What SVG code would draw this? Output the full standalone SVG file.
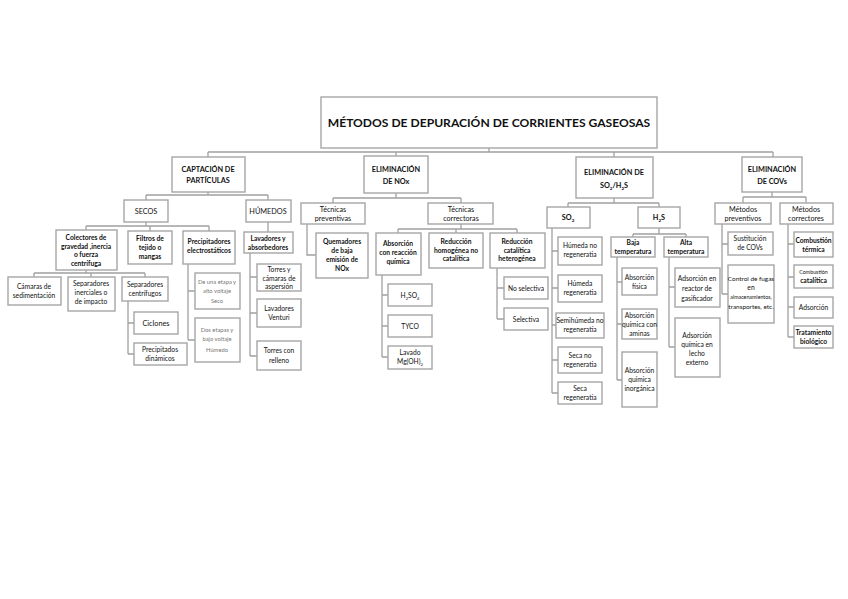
<svg xmlns="http://www.w3.org/2000/svg" width="848" height="599" viewBox="0 0 848 599">
<style>
rect{fill:#fff;stroke:#a6a6a6;stroke-width:1.4}
#connectors path{fill:none;stroke:#a0a0a0;stroke-width:1.3}
text{font-family:Lato,"Liberation Sans",sans-serif;text-anchor:middle;fill:#111}
.t{font-size:12.1px;font-weight:bold}
.h{font-size:7.3px;font-weight:bold}
.m{font-size:6.7px;font-weight:bold}
.s{font-size:6.7px}
.g{font-size:5.8px;fill:#777}
.x{font-size:5.3px}
</style>
<rect x="0" y="0" width="848" height="599" style="fill:#fff;stroke:none"/>
<g id="connectors">
<path d="M489 148V152M208 152H773M208 152V157M396 152V156M614 152V157M773 152V157"/>
<path d="M208 192V195M146 195H268M146 195V200M268 195V200"/>
<path d="M146 222V226M86 226H209M86 226V230M150 226V231M209 226V231"/>
<path d="M86 270V273M34 273H145M34 273V277M91 273V277M145 273V277"/>
<path d="M128 301V354M128 323H134M128 354H134"/>
<path d="M188 264V340M188 291H195M188 340H195"/>
<path d="M268 222V232M250 253V356M250 277H257M250 313H257M250 356H257"/>
<path d="M396 193V198M333 198H461M333 198V203M461 198V203"/>
<path d="M307 224V255H316"/>
<path d="M461 224V229M398 229H517M398 229V233M456 229V233M517 229V233"/>
<path d="M382 275V357M382 295H388M382 326H388M382 357H388"/>
<path d="M497 268V319M497 288H504M497 319H504"/>
<path d="M614 198V203M568 203H659M568 203V207M659 203V207"/>
<path d="M552 228V393M552 251H558M552 288H558M552 325H556M552 360H558M552 393H558"/>
<path d="M659 228V234M633 234H686M633 234V237M686 234V237"/>
<path d="M617 257V380M617 282H622M617 324H622M617 380H622"/>
<path d="M669 257V347M669 287H675M669 347H675"/>
<path d="M772 192V197M743 197H806M743 197V203M806 197V203"/>
<path d="M722 224V294M722 244H728M722 294H728"/>
<path d="M788 224V337M788 244H794M788 277H794M788 307H794M788 337H794"/>
</g>
<g id="n-title"><rect x="321" y="97" width="336" height="51"/><text class="t" x="489" y="127">MÉTODOS DE DEPURACIÓN DE CORRIENTES GASEOSAS</text></g>
<g id="n-captacion"><rect x="172" y="157" width="73" height="35"/><text class="h" x="208" y="172">CAPTACIÓN DE</text><text class="h" x="208" y="183">PARTÍCULAS</text></g>
<g id="n-nox"><rect x="364" y="156" width="64" height="37"/><text class="h" x="396" y="172">ELIMINACIÓN</text><text class="h" x="396" y="184">DE NOx</text></g>
<g id="n-so2h2s"><rect x="576" y="157" width="77" height="41"/><text class="h" x="614" y="175">ELIMINACIÓN DE</text><text class="h" x="614" y="188">SO<tspan dy="1.5" font-size="4.5">2</tspan><tspan dy="-1.5">/H</tspan><tspan dy="1.5" font-size="4.5">2</tspan><tspan dy="-1.5">S</tspan></text></g>
<g id="n-covs"><rect x="742" y="157" width="60" height="35"/><text class="h" x="772" y="172">ELIMINACIÓN</text><text class="h" x="772" y="184">DE COVs</text></g>

<g id="n-secos"><rect x="124" y="200" width="44" height="22"/><text class="h" x="146" y="214" style="font-weight:normal">SECOS</text></g>
<g id="n-humedos"><rect x="246" y="200" width="45" height="22"/><text class="h" x="268" y="214" style="font-weight:normal">HÚMEDOS</text></g>
<g id="n-colectores"><rect x="56" y="230" width="61" height="40"/><text class="m" x="86" y="240">Colectores de</text><text class="m" x="86" y="248.5">gravedad ,inercia</text><text class="m" x="86" y="257">o fuerza</text><text class="m" x="86" y="265.5">centrífuga</text></g>
<g id="n-filtros"><rect x="128" y="231" width="44" height="33"/><text class="m" x="150" y="241">Filtros de</text><text class="m" x="150" y="250">tejido o</text><text class="m" x="150" y="259">mangas</text></g>
<g id="n-precip-elec"><rect x="183" y="231" width="52" height="33"/><text class="m" x="209" y="244">Precipitadores</text><text class="m" x="209" y="253">electrostáticos</text></g>
<g id="n-camaras"><rect x="8" y="277" width="53" height="28"/><text class="s" x="34" y="289">Cámaras de</text><text class="s" x="34" y="298">sedimentación</text></g>
<g id="n-sep-inerciales"><rect x="68" y="277" width="47" height="34"/><text class="s" x="91" y="286">Separadores</text><text class="s" x="91" y="295">inerciales o</text><text class="s" x="91" y="304">de impacto</text></g>
<g id="n-sep-centrifugos"><rect x="122" y="277" width="46" height="24"/><text class="s" x="145" y="287">Separadores</text><text class="s" x="145" y="296">centrífugos</text></g>
<g id="n-ciclones"><rect x="134" y="312" width="44" height="22"/><text class="h" x="156" y="326" style="font-weight:normal">Ciclones</text></g>
<g id="n-precip-din"><rect x="134" y="343" width="53" height="22"/><text class="s" x="160" y="352">Precipitados</text><text class="s" x="160" y="361">dinámicos</text></g>
<g id="n-una-etapa"><rect x="195" y="273" width="45" height="36"/><text class="g" x="217" y="284">De una etapa y</text><text class="g" x="217" y="293">alto voltaje</text><text class="g" x="217" y="303">Seco</text></g>
<g id="n-dos-etapas"><rect x="195" y="318" width="45" height="44"/><text class="g" x="217" y="332">Dos etapas y</text><text class="g" x="217" y="341">bajo voltaje</text><text class="g" x="217" y="352">Húmedo</text></g>
<g id="n-lavadores-abs"><rect x="244" y="232" width="49" height="21"/><text class="m" x="268" y="241">Lavadores y</text><text class="m" x="268" y="250">absorbedores</text></g>
<g id="n-torres-asp"><rect x="257" y="264" width="44" height="27"/><text class="s" x="279" y="272">Torres y</text><text class="s" x="279" y="280.5">cámaras de</text><text class="s" x="279" y="289">aspersión</text></g>
<g id="n-venturi"><rect x="257" y="299" width="44" height="28"/><text class="s" x="279" y="311">Lavadores</text><text class="s" x="279" y="320">Venturi</text></g>
<g id="n-torres-rell"><rect x="257" y="341" width="44" height="29"/><text class="s" x="279" y="353">Torres con</text><text class="s" x="279" y="363">relleno</text></g>

<g id="n-tec-prev"><rect x="301" y="203" width="64" height="21"/><text class="s" x="333" y="212" style="font-size:7.2px">Técnicas</text><text class="s" x="333" y="221" style="font-size:7.2px">preventivas</text></g>
<g id="n-tec-corr"><rect x="428" y="203" width="65" height="21"/><text class="s" x="461" y="212" style="font-size:7.2px">Técnicas</text><text class="s" x="461" y="221" style="font-size:7.2px">correctoras</text></g>
<g id="n-quemadores"><rect x="316" y="233" width="52" height="45"/><text class="m" x="342" y="244">Quemadores</text><text class="m" x="342" y="253">de baja</text><text class="m" x="342" y="262">emisión de</text><text class="m" x="342" y="271">NOx</text></g>
<g id="n-absorcion-rq"><rect x="376" y="233" width="45" height="42"/><text class="m" x="398" y="246">Absorción</text><text class="m" x="398" y="255">con reacción</text><text class="m" x="398" y="264">química</text></g>
<g id="n-red-hom"><rect x="429" y="233" width="54" height="35"/><text class="m" x="456" y="244">Reducción</text><text class="m" x="456" y="252.5">homogénea no</text><text class="m" x="456" y="261">catalítica</text></g>
<g id="n-red-cat"><rect x="490" y="233" width="55" height="35"/><text class="m" x="517" y="244">Reducción</text><text class="m" x="517" y="252.5">catalítica</text><text class="m" x="517" y="261">heterogénea</text></g>
<g id="n-h2so4"><rect x="388" y="284" width="44" height="22"/><text class="s" x="410" y="298">H<tspan dy="1.5" font-size="4.2">2</tspan><tspan dy="-1.5">SO</tspan><tspan dy="1.5" font-size="4.2">4</tspan></text></g>
<g id="n-tyco"><rect x="388" y="315" width="44" height="22"/><text class="s" x="410" y="329">TYCO</text></g>
<g id="n-lavado-mg"><rect x="388" y="346" width="44" height="23"/><text class="s" x="410" y="355">Lavado</text><text class="s" x="410" y="364">Mg(OH)<tspan dy="1.5" font-size="4.2">2</tspan></text></g>
<g id="n-no-selectiva"><rect x="504" y="277" width="44" height="22"/><text class="s" x="526" y="291">No selectiva</text></g>
<g id="n-selectiva"><rect x="504" y="308" width="44" height="22"/><text class="s" x="526" y="322">Selectiva</text></g>

<g id="n-so2"><rect x="547" y="207" width="43" height="21"/><text class="h" x="568" y="220">SO<tspan dy="1.5" font-size="4.5">2</tspan></text></g>
<g id="n-h2s"><rect x="638" y="207" width="42" height="21"/><text class="h" x="659" y="220">H<tspan dy="1.5" font-size="4.5">2</tspan><tspan dy="-1.5">S</tspan></text></g>
<g id="n-hum-no-reg"><rect x="558" y="237" width="44" height="28"/><text class="s" x="580" y="248">Húmeda no</text><text class="s" x="580" y="257">regeneratia</text></g>
<g id="n-hum-reg"><rect x="558" y="275" width="44" height="27"/><text class="s" x="580" y="286">Húmeda</text><text class="s" x="580" y="295">regeneratia</text></g>
<g id="n-semi-no-reg"><rect x="556" y="313" width="48" height="25"/><text class="s" x="580" y="323">Semihúmeda no</text><text class="s" x="580" y="332">regeneratia</text></g>
<g id="n-seca-no-reg"><rect x="558" y="347" width="44" height="26"/><text class="s" x="580" y="358">Seca no</text><text class="s" x="580" y="367">regeneratia</text></g>
<g id="n-seca-reg"><rect x="558" y="382" width="44" height="22"/><text class="s" x="580" y="391">Seca</text><text class="s" x="580" y="400">regeneratia</text></g>
<g id="n-baja"><rect x="611" y="237" width="44" height="20"/><text class="m" x="633" y="245">Baja</text><text class="m" x="633" y="254">temperatura</text></g>
<g id="n-alta"><rect x="664" y="237" width="44" height="20"/><text class="m" x="686" y="245">Alta</text><text class="m" x="686" y="254">temperatura</text></g>
<g id="n-abs-fisica"><rect x="622" y="268" width="35" height="27"/><text class="s" x="639.5" y="280">Absorción</text><text class="s" x="639.5" y="289">física</text></g>
<g id="n-abs-aminas"><rect x="622" y="309" width="35" height="30"/><text class="s" x="639.5" y="318">Absorción</text><text class="s" x="639.5" y="327">química con</text><text class="s" x="639.5" y="336">aminas</text></g>
<g id="n-abs-inorg"><rect x="622" y="352" width="35" height="55"/><text class="s" x="639.5" y="373">Absorción</text><text class="s" x="639.5" y="382">química</text><text class="s" x="639.5" y="391">inorgánica</text></g>
<g id="n-ads-reactor"><rect x="675" y="268" width="45" height="39"/><text class="s" x="697" y="281">Adsorción en</text><text class="s" x="697" y="291">reactor de</text><text class="s" x="697" y="301">gasificador</text></g>
<g id="n-ads-lecho"><rect x="675" y="318" width="45" height="59"/><text class="s" x="697" y="338">Adsorción</text><text class="s" x="697" y="347">química en</text><text class="s" x="697" y="356">lecho</text><text class="s" x="697" y="365">externo</text></g>

<g id="n-met-prev"><rect x="715" y="203" width="56" height="21"/><text class="s" x="743" y="212" style="font-size:7.2px">Métodos</text><text class="s" x="743" y="221" style="font-size:7.2px">preventivos</text></g>
<g id="n-met-corr"><rect x="780" y="203" width="53" height="21"/><text class="s" x="806" y="212" style="font-size:7.2px">Métodos</text><text class="s" x="806" y="221" style="font-size:7.2px">correctores</text></g>
<g id="n-sustitucion"><rect x="728" y="232" width="45" height="23"/><text class="s" x="750" y="241">Sustitución</text><text class="s" x="750" y="250">de COVs</text></g>
<g id="n-control"><rect x="728" y="265" width="46" height="58"/><text class="s" x="751" y="281" style="font-size:6.4px">Control de fugas</text><text class="s" x="751" y="290">en</text><text class="x" x="751" y="299">almacenamientos,</text><text class="s" x="751" y="309" style="font-size:6.4px">transportes, etc.</text></g>
<g id="n-comb-term"><rect x="794" y="232" width="39" height="25"/><text class="m" x="813.5" y="243">Combustión</text><text class="m" x="813.5" y="252">térmica</text></g>
<g id="n-comb-cat"><rect x="794" y="265" width="39" height="23"/><text class="x" x="813.5" y="274">Combustión</text><text class="m" x="813.5" y="283">catalítica</text></g>
<g id="n-adsorcion"><rect x="794" y="297" width="39" height="21"/><text class="s" x="813.5" y="310">Adsorción</text></g>
<g id="n-trat-bio"><rect x="794" y="326" width="39" height="22"/><text class="m" x="813.5" y="335">Tratamiento</text><text class="m" x="813.5" y="344">biológico</text></g>
</svg>
